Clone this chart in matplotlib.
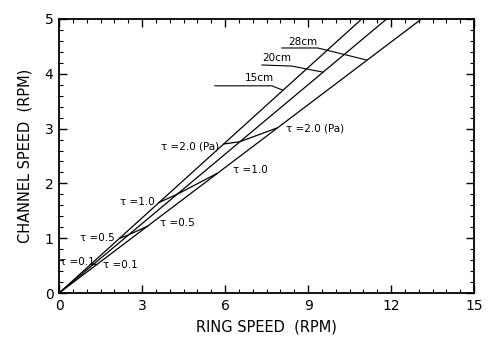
import matplotlib
matplotlib.use("Agg")
import matplotlib.pyplot as plt
from matplotlib.ticker import MultipleLocator

plt.rcParams['font.family'] = ['DejaVu Sans']

# Three ring-height lines (from origin to the top of the plot)
heights = ['15cm', '20cm', '28cm']
line_ring_end = [10.94, 11.84, 13.1]
line_channel_end = [5.0, 5.0, 5.0]

# Constant shear-stress curves: points on each of the three lines
taus = ['0.1', '0.5', '1.0', '2.0']
tau_ring_15 = [1.15, 2.2, 3.6, 5.96]
tau_chan_15 = [0.53, 1.00, 1.65, 2.72]
tau_ring_20 = [1.25, 2.5, 4.3, 6.53]
tau_chan_20 = [0.53, 1.06, 1.81, 2.76]
tau_ring_28 = [1.37, 3.2, 5.7, 7.87]
tau_chan_28 = [0.52, 1.22, 2.18, 3.01]

x_ticks = [0, 3, 6, 9, 12, 15]
y_ticks = [0, 1, 2, 3, 4, 5]

fig = plt.figure(figsize=(4.96, 3.44), dpi=100)
ax = fig.add_axes([0.119, 0.148, 0.837, 0.797])

for xe, ye in zip(line_ring_end, line_channel_end):
    ax.plot([0, xe], [0, ye], color='black', lw=0.9)

for i in range(len(taus)):
    ax.plot([tau_ring_15[i], tau_ring_20[i], tau_ring_28[i]],
            [tau_chan_15[i], tau_chan_20[i], tau_chan_28[i]],
            color='black', lw=0.9)

lab_fs = 7.5
left_pos = [(0.04, 0.57), (2.0, 1.0), (3.45, 1.66), (5.8, 2.67)]
left_ha = ['left', 'right', 'right', 'right']
right_pos = [(1.6, 0.51), (3.65, 1.28), (6.3, 2.24), (8.2, 3.01)]
for i, t in enumerate(taus):
    suffix = ' (Pa)' if t == '2.0' else ''
    lx, ly = left_pos[i]
    rx, ry = right_pos[i]
    ax.text(lx, ly, 'τ =' + t + suffix, fontsize=lab_fs, ha=left_ha[i], va='center')
    ax.text(rx, ry, 'τ =' + t + suffix, fontsize=lab_fs, ha='left', va='center')

# leader lines for heights
leaders = {
    '15cm': [(5.63, 3.78), (7.69, 3.78), (8.09, 3.70)],
    '20cm': [(7.33, 4.16), (8.41, 4.14), (9.53, 4.03)],
    '28cm': [(8.05, 4.47), (9.35, 4.47), (11.12, 4.25)],
}
text_pos = {'15cm': (6.7, 3.92), '20cm': (7.36, 4.29), '28cm': (8.27, 4.57)}
for h in heights:
    pts = leaders[h]
    ax.plot([p[0] for p in pts], [p[1] for p in pts], color='black', lw=0.8)
    ax.text(text_pos[h][0], text_pos[h][1], h, fontsize=lab_fs, ha='left', va='center')

ax.set_xlim(0, 15)
ax.set_ylim(0, 5)
ax.set_xticks(x_ticks)
ax.set_yticks(y_ticks)
ax.xaxis.set_minor_locator(MultipleLocator(0.5))
ax.yaxis.set_minor_locator(MultipleLocator(0.2))
ax.tick_params(which='both', direction='in', top=True, right=True)
ax.tick_params(which='major', length=6, width=1)
ax.tick_params(which='minor', length=3, width=0.8)
ax.tick_params(axis='both', labelsize=10, pad=4)
for s in ax.spines.values():
    s.set_linewidth(1.3)

ax.set_xlabel('RING SPEED  (RPM)', fontsize=10.5, labelpad=5)
ax.set_ylabel('CHANNEL SPEED  (RPM)', fontsize=10.5, labelpad=9)

fig.savefig('out.png', dpi=100)
